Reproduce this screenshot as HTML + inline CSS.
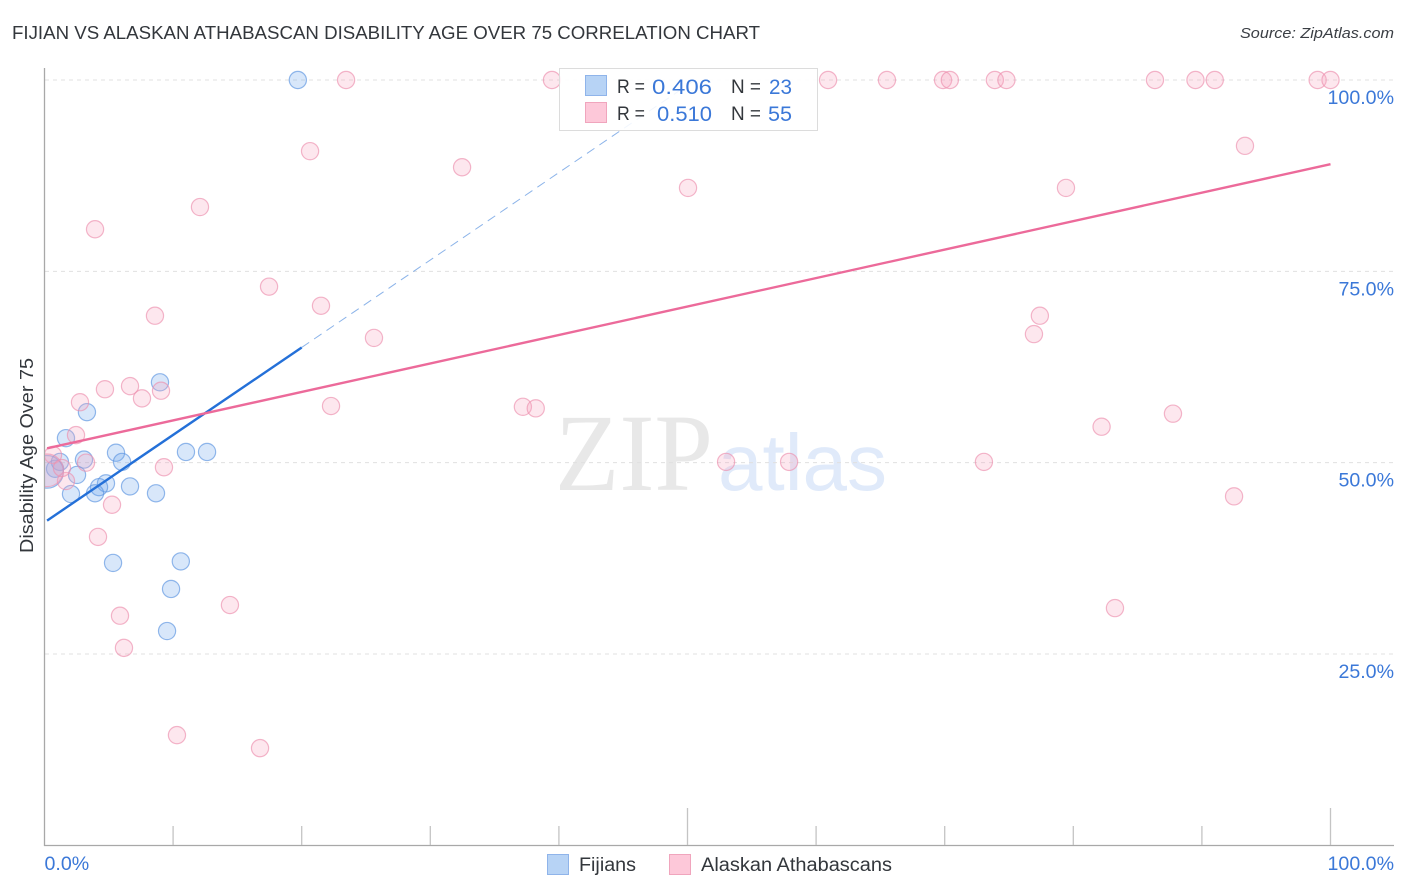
<!DOCTYPE html>
<html>
<head>
<meta charset="utf-8">
<title>Fijian vs Alaskan Athabascan Disability Age Over 75 Correlation Chart</title>
<style>
html,body{margin:0;padding:0;background:#fff;width:1406px;height:892px;overflow:hidden}
svg{display:block;font-family:"Liberation Sans",sans-serif}
</style>
</head>
<body>
<svg id="chart" width="1406" height="892" viewBox="0 0 1406 892" xmlns="http://www.w3.org/2000/svg">
  <defs>
    <clipPath id="plot-clip"><rect x="45" y="60" width="1360" height="786"></rect></clipPath>
  </defs>
  <text x="12" y="39" font-size="18.5" fill="#33373c" textLength="748" lengthAdjust="spacingAndGlyphs">FIJIAN VS ALASKAN ATHABASCAN DISABILITY AGE OVER 75 CORRELATION CHART</text>
  <text x="1394" y="38" font-size="15" font-style="italic" fill="#3a3e44" text-anchor="end" textLength="154" lengthAdjust="spacingAndGlyphs">Source: ZipAtlas.com</text>

  <g>
    <text x="555" y="490" style="font-family:'Liberation Serif',serif" font-size="110" fill="#e8e8e8" textLength="158" lengthAdjust="spacingAndGlyphs">ZIP</text>
    <text x="718" y="490" style="font-family:'Liberation Sans',sans-serif" font-size="80" fill="#e0eafa" textLength="169" lengthAdjust="spacingAndGlyphs">atlas</text>
  </g>

  <g id="grid"></g>
  <g id="axes"></g>
  <g id="series-fijians" clip-path="url(#plot-clip)"></g>
  <g id="series-alaskan" clip-path="url(#plot-clip)"></g>
  <g id="trends"></g>

  <g>
    <rect x="559.5" y="68.5" width="258" height="62" fill="#fff" fill-opacity="0.88" stroke="#dcdcdc" stroke-width="1"></rect>
    <rect x="585.5" y="75.5" width="21" height="20" fill="#b7d3f5" stroke="#8fb4ea"></rect>
    <rect x="585.5" y="102.5" width="21" height="20" fill="#fdc8d9" stroke="#f0a5bd"></rect>
    <text x="617" y="93" font-size="19" fill="#33373c" textLength="28" lengthAdjust="spacingAndGlyphs">R =</text>
    <text x="652" y="94" font-size="21" fill="#3b78d8" textLength="60" lengthAdjust="spacingAndGlyphs">0.406</text>
    <text x="731" y="93" font-size="19" fill="#33373c" textLength="30" lengthAdjust="spacingAndGlyphs">N =</text>
    <text x="769" y="94" font-size="21" fill="#3b78d8" textLength="23" lengthAdjust="spacingAndGlyphs">23</text>
    <text x="617" y="120" font-size="19" fill="#33373c" textLength="28" lengthAdjust="spacingAndGlyphs">R =</text>
    <text x="657" y="121" font-size="21" fill="#3b78d8" textLength="55" lengthAdjust="spacingAndGlyphs">0.510</text>
    <text x="731" y="120" font-size="19" fill="#33373c" textLength="30" lengthAdjust="spacingAndGlyphs">N =</text>
    <text x="768" y="121" font-size="21" fill="#3b78d8" textLength="24" lengthAdjust="spacingAndGlyphs">55</text>
  </g>

  <text transform="translate(33,553) rotate(-90)" font-size="18" fill="#33373c" textLength="195" lengthAdjust="spacingAndGlyphs">Disability Age Over 75</text>

  <g>
    <g>
      <rect x="547.5" y="854.5" width="21" height="20" fill="#b7d3f5" stroke="#8fb4ea"></rect>
      <text x="579" y="871" font-size="19" fill="#33373c" textLength="57" lengthAdjust="spacingAndGlyphs">Fijians</text>
    </g>
    <g>
      <rect x="669.5" y="854.5" width="21" height="20" fill="#fdc8d9" stroke="#f0a5bd"></rect>
      <text x="701" y="871" font-size="19" fill="#33373c" textLength="191" lengthAdjust="spacingAndGlyphs">Alaskan Athabascans</text>
    </g>
  </g>
</svg>
<script>
const yTicks = [25, 50, 75, 100];
const yTickLabels = ['25.0%', '50.0%', '75.0%', '100.0%'];
const xTicks = [0, 10, 20, 30, 40, 50, 60, 70, 80, 90, 100];
const xMajorTicks = [50, 100];
const xEndValues = [0, 100];
const xEndLabels = ['0.0%', '100.0%'];

const fijianX = [19.7, 8.98, 3.3, 1.67, 5.56, 11.0, 12.64, 3.07, 6.03, 1.2, 0.82, 2.53, 4.78, 4.24, 6.65, 3.93, 2.06, 8.67, 5.33, 10.6, 9.84, 9.53, 0.2];
const fijianY = [100, 60.5, 56.6, 53.2, 51.3, 51.4, 51.4, 50.4, 50.1, 50.1, 49.2, 48.4, 47.3, 46.8, 46.9, 46.0, 45.9, 46.0, 36.9, 37.1, 33.5, 28.0, 48.8];
const fijianSize = [1, 1, 1, 1, 1, 1, 1, 1, 1, 1, 1, 1, 1, 1, 1, 1, 1, 1, 1, 1, 1, 1, 1.9];

const alaskanX = [23.45, 39.46, 60.93, 65.51, 69.87, 70.4, 73.9, 74.8, 86.35, 89.5, 91.0, 99.0, 100, 93.35, 20.65, 32.47, 50.04, 79.43, 12.09, 3.93, 17.46, 21.5, 8.59, 77.4, 76.94, 25.62, 4.7, 6.65, 9.06, 7.58, 2.76, 22.28, 37.2, 38.2, 87.75, 82.2, 2.45, 53, 57.9, 73.05, 9.29, 3.23, 0.66, 1.67, 5.25, 92.5, 4.16, 14.42, 83.24, 5.87, 6.18, 10.3, 16.76, 0.2, 1.36];
const alaskanY = [100, 100, 100, 100, 100, 100, 100, 100, 100, 100, 100, 100, 100, 91.4, 90.7, 88.6, 85.9, 85.9, 83.4, 80.5, 73.0, 70.5, 69.2, 69.2, 66.8, 66.3, 59.6, 60.0, 59.4, 58.4, 57.9, 57.4, 57.3, 57.1, 56.4, 54.7, 53.6, 50.1, 50.1, 50.1, 49.4, 50, 51, 47.6, 44.5, 45.6, 40.3, 31.4, 31.0, 30, 25.8, 14.4, 12.7, 49, 49.3];
const alaskanSize = [1, 1, 1, 1, 1, 1, 1, 1, 1, 1, 1, 1, 1, 1, 1, 1, 1, 1, 1, 1, 1, 1, 1, 1, 1, 1, 1, 1, 1, 1, 1, 1, 1, 1, 1, 1, 1, 1, 1, 1, 1, 1, 1, 1, 1, 1, 1, 1, 1, 1, 1, 1, 1, 1.9, 1];

const fijianTrend = [42.2, 1.1427];
const fijianSolidRange = [0.2, 20];
const fijianDashedRange = [20, 50.6];
const alaskanTrend = [51.8, 0.372];
const alaskanRange = [0.2, 100];

const NS = 'http://www.w3.org/2000/svg';
function xScale(v) { return 44.5 + v * 12.86; }
function yScale(v) { return 80 + (100 - v) * 7.6533; }
function make(tag, attrs, parent) {
  const el = document.createElementNS(NS, tag);
  for (const k in attrs) el.setAttribute(k, attrs[k]);
  parent.appendChild(el);
  return el;
}
const grid = document.getElementById('grid');
const axes = document.getElementById('axes');

yTicks.forEach(function (t, i) {
  const line = make('line', { x1: 45, x2: 1394, y1: yScale(t), y2: yScale(t), stroke: '#e0e0e0', 'stroke-width': 1, 'stroke-dasharray': '4 4' }, grid);
  
  
  const label = make('text', { x: 1394, y: yScale(t) + 24, 'font-size': 19.6, fill: '#3b78d8', 'text-anchor': 'end' }, axes);
  
  
  label.textContent = yTickLabels[i];
});

const yAxis = make('line', { x1: 44.5, x2: 44.5, y1: 68, y2: 846, stroke: '#a8a8a8', 'stroke-width': 1.3 }, axes);


const xAxis = make('line', { x1: 44, x2: 1394, y1: 845.5, y2: 845.5, stroke: '#a8a8a8', 'stroke-width': 1.3 }, axes);



xTicks.forEach(function (t) {
  if (t === 0) return;
  const top = xMajorTicks.indexOf(t) >= 0 ? 808 : 826;
  const tick = make('line', { x1: xScale(t), x2: xScale(t), y1: top, y2: 845, stroke: '#c4c4c4', 'stroke-width': 1.3 }, axes);
  
  
});

xEndValues.forEach(function (t, i) {
  const label = make('text', { x: i === 0 ? xScale(t) : 1394, y: 870, 'font-size': 19.6, fill: '#3b78d8', 'text-anchor': i === 0 ? 'start' : 'end' }, axes);
  
  
  label.textContent = xEndLabels[i];
});

function drawPoints(groupId, xs, ys, sizes, fill, stroke, name) {
  const g = document.getElementById(groupId);
  xs.forEach(function (x, i) {
    const c = make('circle', { cx: xScale(x), cy: yScale(ys[i]), r: 8.6 * sizes[i], fill: fill, 'fill-opacity': 0.27, stroke: stroke, 'stroke-opacity': 0.65, 'stroke-width': 1.2 }, g);
    
    
  });
}
drawPoints('series-fijians', fijianX, fijianY, fijianSize, '#6fa8ec', '#5a93e0', 'fijian-point');
drawPoints('series-alaskan', alaskanX, alaskanY, alaskanSize, '#f7a8c0', '#ec8fae', 'alaskan-point');

const trends = document.getElementById('trends');
function trendLine(tr, range, attrs, name) {
  const line = make('line', Object.assign({
    x1: xScale(range[0]), y1: yScale(tr[0] + tr[1] * range[0]),
    x2: xScale(range[1]), y2: yScale(tr[0] + tr[1] * range[1])
  }, attrs), trends);
  
  
}
trendLine(fijianTrend, fijianSolidRange, { stroke: '#2470d8', 'stroke-width': 2.4 }, 'fijian-trend-line');
trendLine(fijianTrend, fijianDashedRange, { stroke: '#5a93e0', 'stroke-width': 1, 'stroke-opacity': 0.7, 'stroke-dasharray': '9 6' }, 'fijian-trend-extension');
trendLine(alaskanTrend, alaskanRange, { stroke: '#ec6a9a', 'stroke-width': 2.4 }, 'alaskan-trend-line');
</script>
</body>
</html>
